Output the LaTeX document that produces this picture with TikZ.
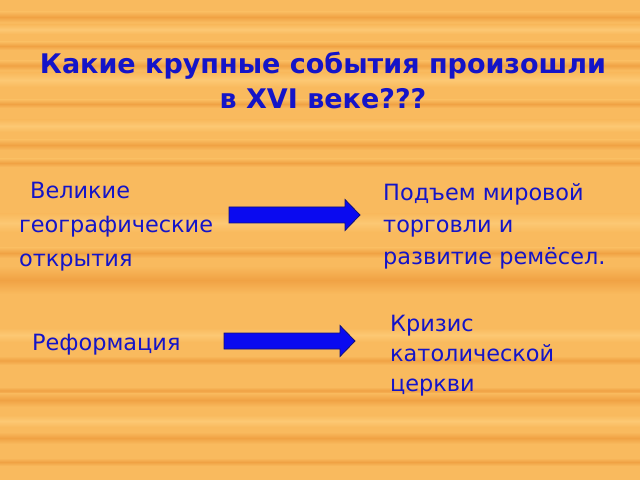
\documentclass[tikz,border=0pt]{standalone}
\usepackage{fontspec}
\setmainfont{DejaVu Sans}
\usepackage{tikz}
\usetikzlibrary{positioning,arrows,calc}

\definecolor{bgorange}{HTML}{F9BA5E}
\definecolor{bgdark}{HTML}{F0A244}
\definecolor{bglight}{HTML}{FCC873}
\definecolor{txtblue}{HTML}{1414C8}
\definecolor{arrblue}{HTML}{0A0AF0}
\definecolor{arrline}{HTML}{10107A}

\tikzset{
  lbl/.style={text=txtblue, font=\fontsize{22.4}{33}\selectfont, align=left, inner sep=0pt},
  ttl/.style={text=txtblue, font=\bfseries\fontsize{27}{35}\selectfont, align=center, inner sep=0pt},
  band/.style={top color=bgorange, bottom color=bgorange, middle color=#1},
  blockarr/.style={fill=arrblue, draw=arrline, line width=0.8pt, line join=miter,
    to path={($(\tikztostart)+(0,8)$) -- ($(\tikztotarget)+(-15,8)$)
      -- ($(\tikztotarget)+(-15,15.5)$) -- (\tikztotarget)
      -- ($(\tikztotarget)+(-15,-15.5)$) -- ($(\tikztotarget)+(-15,-8)$)
      -- ($(\tikztostart)+(0,-8)$) -- cycle}}
}

\begin{document}
\begin{tikzpicture}[x=1pt,y=1pt]

  % background
  \fill[bgorange] (0,0) rectangle (640,480);
  \foreach \yy/\hh in {458/10,430/8,410/9,372/8,330/10,313/8,222/10,186/28,115/9,86/7,73/14,36/12,14/8}
    \shade[band=bgdark] (0,\yy) rectangle (640,\yy+\hh);
  \foreach \yy/\hh in {446/9,393/14,348/12,248/18,138/14,53/12}
    \shade[band=bglight] (0,\yy) rectangle (640,\yy+\hh);
  \useasboundingbox (0,0) rectangle (640,480);

  \node[ttl] (t0) at (323,400) {Какие крупные события произошли\\в XVI веке???};

  \node[lbl, font=\fontsize{22.4}{34}\selectfont] (l1) [anchor=north west] at (19,298) {\hspace*{11pt}Великие\\географические\\открытия};
  \node[lbl] (l2) [anchor=west] at (32,135) {Реформация};

  \node[lbl, font=\fontsize{22.4}{32}\selectfont] (r1) [anchor=north west] at (383,297) {Подъем мировой\\торговли и\\развитие ремёсел.};
  \node[lbl, font=\fontsize{22.4}{30}\selectfont] (r2) [anchor=north west] at (390,165) {Кризис\\католической\\церкви};

  \coordinate (a1s) at (229,265);
  \coordinate (a1e) at (360,265);
  \coordinate (a2s) at (224,139);
  \coordinate (a2e) at (355,139);

  \path[blockarr] (a1s) to (a1e);
  \path[blockarr] (a2s) to (a2e);

\end{tikzpicture}
\end{document}
